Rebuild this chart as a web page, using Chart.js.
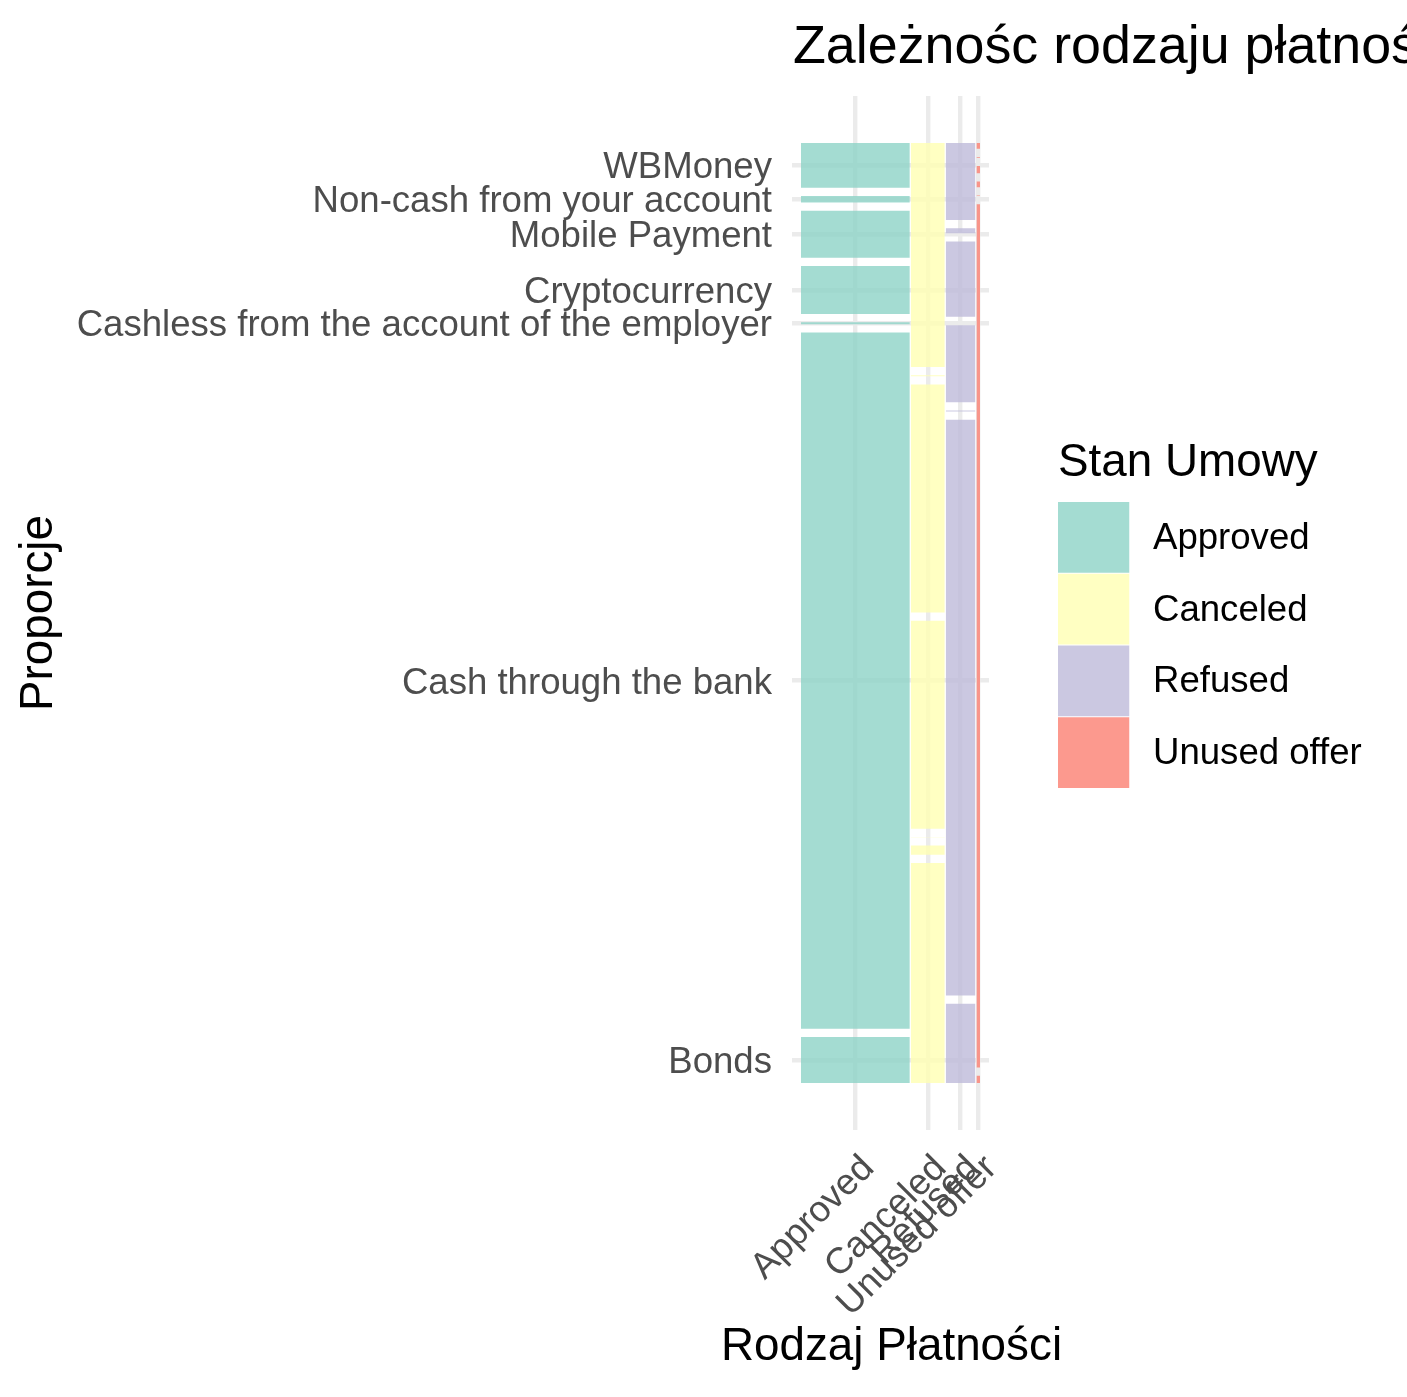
<!DOCTYPE html>
<html>
<head>
<meta charset="utf-8">
<script src="https://cdn.jsdelivr.net/npm/chart.js@4.4.1/dist/chart.umd.min.js"></script>
<style>
html,body{margin:0;padding:0;background:#ffffff;}
canvas{display:block;}
</style>
</head>
<body>
<canvas id="chart" width="1407" height="1397"></canvas>
<script>
// ---------------- DATA ----------------
const statuses = ['Approved', 'Canceled', 'Refused', 'Unused offer'];
const paymentTypes = [
  'Bonds',
  'Cash through the bank',
  'Cashless from the account of the employer',
  'Cryptocurrency',
  'Mobile Payment',
  'Non-cash from your account',
  'WBMoney'
];
// share of each contract status (column widths, %)
const statusShare = [61.83, 19.29, 16.85, 2.04];
// share of each payment type within a status (%), same order as paymentTypes
const approvedShares = [5.16, 78.17, 0.22, 5.38, 5.27, 0.75, 5.01];
const canceledShares = [24.69, 1.04, 0.03, 23.34, 25.58, 0.11, 25.13];
const refusedShares  = [8.91, 64.66, 0.11, 8.65, 8.46, 0.56, 8.65];
const unusedShares   = [0.82, 96.95, 0.06, 0.63, 0.83, 0.08, 0.64];

const titleText = 'Zależnośc rodzaju płatności od stanu umowy';
const xTitle = 'Rodzaj Płatności';
const yTitle = 'Proporcje';
const legendTitle = 'Stan Umowy';

// ---------------- STYLE / LAYOUT ----------------
const FONT = '"Liberation Sans", Arial, Helvetica, sans-serif';
const COLORS = [
  'rgba(141,211,199,0.8)',
  'rgba(255,255,179,0.8)',
  'rgba(190,186,218,0.8)',
  'rgba(251,128,114,0.8)'
];
const X_GAP = 0.0056;
const Y_GAP = 0.0088;

const shareTable = [approvedShares, canceledShares, refusedShares, unusedShares];
const totalStatus = statusShare.reduce((a, b) => a + b, 0);
const xUsable = 1 - X_GAP * (statuses.length - 1);
const yUsable = 1 - Y_GAP * (paymentTypes.length - 1);

const columns = [];
let xc = 0;
statuses.forEach((s, i) => {
  const w = statusShare[i] / totalStatus * xUsable;
  const shares = shareTable[i];
  const tot = shares.reduce((a, b) => a + b, 0);
  const segs = [];
  let yc = 0;
  shares.forEach(v => {
    const h = v / tot * yUsable;
    segs.push({ y0: yc, y1: yc + h });
    yc += h + Y_GAP;
  });
  columns.push({ x0: xc, x1: xc + w, segs });
  xc += w + X_GAP;
});
const xCenters = columns.map(c => (c.x0 + c.x1) / 2);
const yCenters = columns[0].segs.map(s => (s.y0 + s.y1) / 2);

const datasets = [];
columns.forEach((c, i) => {
  c.segs.forEach((s, j) => {
    datasets.push({
      label: statuses[i] + ' / ' + paymentTypes[j],
      data: [{ x: c.x0, y: s.y1 }, { x: c.x1, y: s.y1 }],
      showLine: true,
      fill: { value: s.y0 },
      backgroundColor: COLORS[i],
      borderColor: 'rgba(0,0,0,0)',
      borderWidth: 0,
      pointRadius: 0,
      pointHoverRadius: 0,
      tension: 0
    });
  });
});

const decor = {
  id: 'decor',
  afterDraw(chart) {
    const ctx = chart.ctx;
    const a = chart.chartArea;
    ctx.save();
    ctx.fillStyle = '#000000';
    ctx.textAlign = 'left';
    ctx.textBaseline = 'alphabetic';
    ctx.font = '53.8px ' + FONT;
    ctx.fillText(titleText, a.left + 1, 63);

    // x axis title
    ctx.textAlign = 'center';
    ctx.textBaseline = 'middle';
    ctx.font = '45.8px ' + FONT;
    ctx.fillText(xTitle, (a.left + a.right) / 2 + 1, 1347);

    // legend
    const lx = a.right + 69;
    ctx.textAlign = 'left';
    ctx.textBaseline = 'alphabetic';
    ctx.fillText(legendTitle, lx, 476);
    const boxTop = 502, boxSize = 71.75;
    ctx.font = '36.6px ' + FONT;
    ctx.textBaseline = 'middle';
    statuses.forEach((s, i) => {
      const y = boxTop + i * boxSize;
      ctx.fillStyle = COLORS[i];
      ctx.fillRect(lx, y, boxSize - 0.5, boxSize - 1);
      ctx.fillStyle = '#000000';
      ctx.fillText(s, lx + 95, y + boxSize / 2 + 1);
    });
    ctx.restore();
  }
};

new Chart(document.getElementById('chart'), {
  type: 'scatter',
  data: { datasets },
  options: {
    responsive: false,
    animation: false,
    events: [],
    devicePixelRatio: 1,
    layout: { padding: { left: 0, top: 96, right: 418, bottom: 0 } },
    plugins: { legend: { display: false }, tooltip: { enabled: false }, title: { display: false } },
    scales: {
      x: {
        type: 'linear',
        min: -0.05,
        max: 1.05,
        afterBuildTicks: s => { s.ticks = xCenters.map(v => ({ value: v })); },
        afterFit: s => { s.height = 267; s.paddingLeft = 0; s.paddingRight = 0; },
        grid: { color: '#EBEBEB', lineWidth: 4.4, drawTicks: false },
        border: { display: false },
        ticks: {
          autoSkip: false,
          maxRotation: 45,
          minRotation: 45,
          padding: 17,
          labelOffset: 13,
          color: '#4D4D4D',
          font: { family: FONT, size: 36.6 },
          callback: (v, i) => statuses[i]
        },
        title: { display: false }
      },
      y: {
        type: 'linear',
        min: -0.05,
        max: 1.05,
        afterBuildTicks: s => { s.ticks = yCenters.map(v => ({ value: v })); },
        afterFit: s => { s.width = 792; s.paddingTop = 0; s.paddingBottom = 0; },
        grid: { color: '#EBEBEB', lineWidth: 4.4, drawTicks: false },
        border: { display: false },
        ticks: {
          autoSkip: false,
          padding: 20,
          labelOffset: 3,
          color: '#4D4D4D',
          font: { family: FONT, size: 36.6 },
          callback: (v, i) => paymentTypes[i]
        },
        title: {
          display: true,
          text: yTitle,
          color: '#000000',
          font: { family: FONT, size: 45.8 },
          padding: { top: 12, bottom: 0 }
        }
      }
    }
  },
  plugins: [decor]
});
</script>
</body>
</html>
